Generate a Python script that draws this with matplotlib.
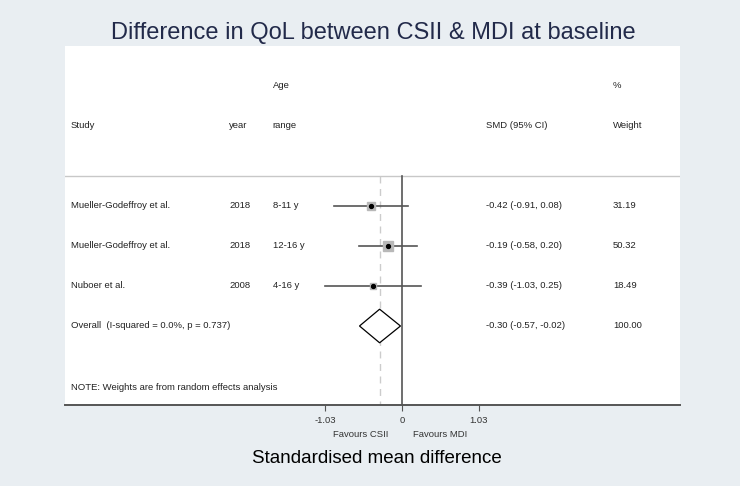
import numpy as np
import matplotlib
matplotlib.use("Agg")
import matplotlib.pyplot as plt
from matplotlib.patches import Polygon

plt.rcParams['font.family'] = ['Liberation Sans', 'DejaVu Sans']

# Data
studies  = ["Mueller-Godeffroy et al.", "Mueller-Godeffroy et al.", "Nuboer et al."]
years    = ["2018", "2018", "2008"]
ages     = ["8-11 y", "12-16 y", "4-16 y"]
smd      = [-0.42, -0.19, -0.39]
ci_low   = [-0.91, -0.58, -1.03]
ci_high  = [0.08, 0.20, 0.25]
weights  = [31.19, 50.32, 18.49]

overall_label = "Overall  (I-squared = 0.0%, p = 0.737)"
overall_smd   = -0.30
overall_low   = -0.57
overall_high  = -0.02
overall_w     = 100.00

x_ticks       = [-1.03, 0, 1.03]
x_tick_labels = ["-1.03", "0", "1.03"]

BG = "#e9eef2"
TXT = "#222222"

fig = plt.figure(figsize=(7.4, 4.86), dpi=100)
fig.patch.set_facecolor(BG)

# white panel: x 65..680 px, y 46..405 px
W, H = 740, 486
ax = fig.add_axes([65 / W, (H - 405) / H, 615 / W, 359 / H])
ax.set_facecolor("white")
ax.set_xlim(-4.523, 3.732)
ax.set_ylim(4.975, -4.0)

for side in ("top", "left", "right"):
    ax.spines[side].set_visible(False)
ax.spines["bottom"].set_color("#555555")
ax.spines["bottom"].set_linewidth(1.4)
ax.set_yticks([])
ax.set_xticks(x_ticks)
ax.set_xticklabels(x_tick_labels, fontsize=6.8, color="#333333")
ax.tick_params(axis="x", length=4, width=0.8, color="#555555", pad=4)

# column positions (axes fraction)
col_study, col_year, col_age, col_ci, col_w = 0.0098, 0.267, 0.338, 0.685, 0.891
tr = ax.get_yaxis_transform()
fs = 6.8

# headers
ax.text(col_age, -3.0, "Age", transform=tr, fontsize=fs, color=TXT, va="center")
ax.text(col_w, -3.0, "%", transform=tr, fontsize=fs, color=TXT, va="center")
for c, s in [(col_study, "Study"), (col_year, "year"), (col_age, "range"),
             (col_ci, "SMD (95% CI)"), (col_w, "Weight")]:
    ax.text(c, -2.0, s, transform=tr, fontsize=fs, color=TXT, va="center")

# separator under header
ax.axhline(-0.75, color="#c8c8c8", linewidth=1.0)

# reference lines
ax.plot([0, 0], [-0.75, 4.975], color="#555555", linewidth=1.2, zorder=2)
ax.plot([overall_smd, overall_smd], [-0.75, 4.975], color="#cccccc",
        linewidth=1.0, linestyle=(0, (5, 4)), zorder=1)

# studies
for i in range(len(studies)):
    ax.plot([ci_low[i], ci_high[i]], [i, i], color="#555555", linewidth=1.2, zorder=3)
    ax.plot(smd[i], i, marker="s", markersize=0.944 * np.sqrt(weights[i]),
            color="#b8b8b8", linestyle="none", zorder=4)
    ax.plot(smd[i], i, marker="o", markersize=2.8, color="black",
            linestyle="none", zorder=5)
    ax.text(col_study, i, studies[i], transform=tr, fontsize=fs, color=TXT, va="center")
    ax.text(col_year, i, years[i], transform=tr, fontsize=fs, color=TXT, va="center")
    ax.text(col_age, i, ages[i], transform=tr, fontsize=fs, color=TXT, va="center")
    ax.text(col_ci, i, f"{smd[i]:.2f} ({ci_low[i]:.2f}, {ci_high[i]:.2f})",
            transform=tr, fontsize=fs, color=TXT, va="center")
    ax.text(col_w, i, f"{weights[i]:.2f}", transform=tr, fontsize=fs, color=TXT, va="center")

# overall diamond
yo = 3
diamond = Polygon([[overall_low, yo], [overall_smd, yo - 0.42],
                   [overall_high, yo], [overall_smd, yo + 0.42]],
                  closed=True, facecolor="white", edgecolor="black", linewidth=0.9, zorder=6)
ax.add_patch(diamond)
ax.text(col_study, yo, overall_label, transform=tr, fontsize=fs, color=TXT, va="center")
ax.text(col_ci, yo, f"{overall_smd:.2f} ({overall_low:.2f}, {overall_high:.2f})",
        transform=tr, fontsize=fs, color=TXT, va="center")
ax.text(col_w, yo, f"{overall_w:.2f}", transform=tr, fontsize=fs, color=TXT, va="center")

ax.text(col_study, 4.525, "NOTE: Weights are from random effects analysis",
        transform=tr, fontsize=fs, color=TXT, va="center")

# favours labels
ax.text(-0.18, 5.7, "Favours CSII", fontsize=6.8, color="#333333",
        ha="right", va="center", clip_on=False)
ax.text(0.15, 5.7, "Favours MDI", fontsize=6.8, color="#333333",
        ha="left", va="center", clip_on=False)

fig.text(377 / W, 1 - 458 / H, "Standardised mean difference", fontsize=13.5,
         color="black", ha="center", va="center")
fig.text(373 / W, 1 - 33 / H, "Difference in QoL between CSII & MDI at baseline",
         fontsize=17, color="#222a4a", ha="center", va="center")

fig.savefig("out.png", dpi=100, facecolor=BG)
